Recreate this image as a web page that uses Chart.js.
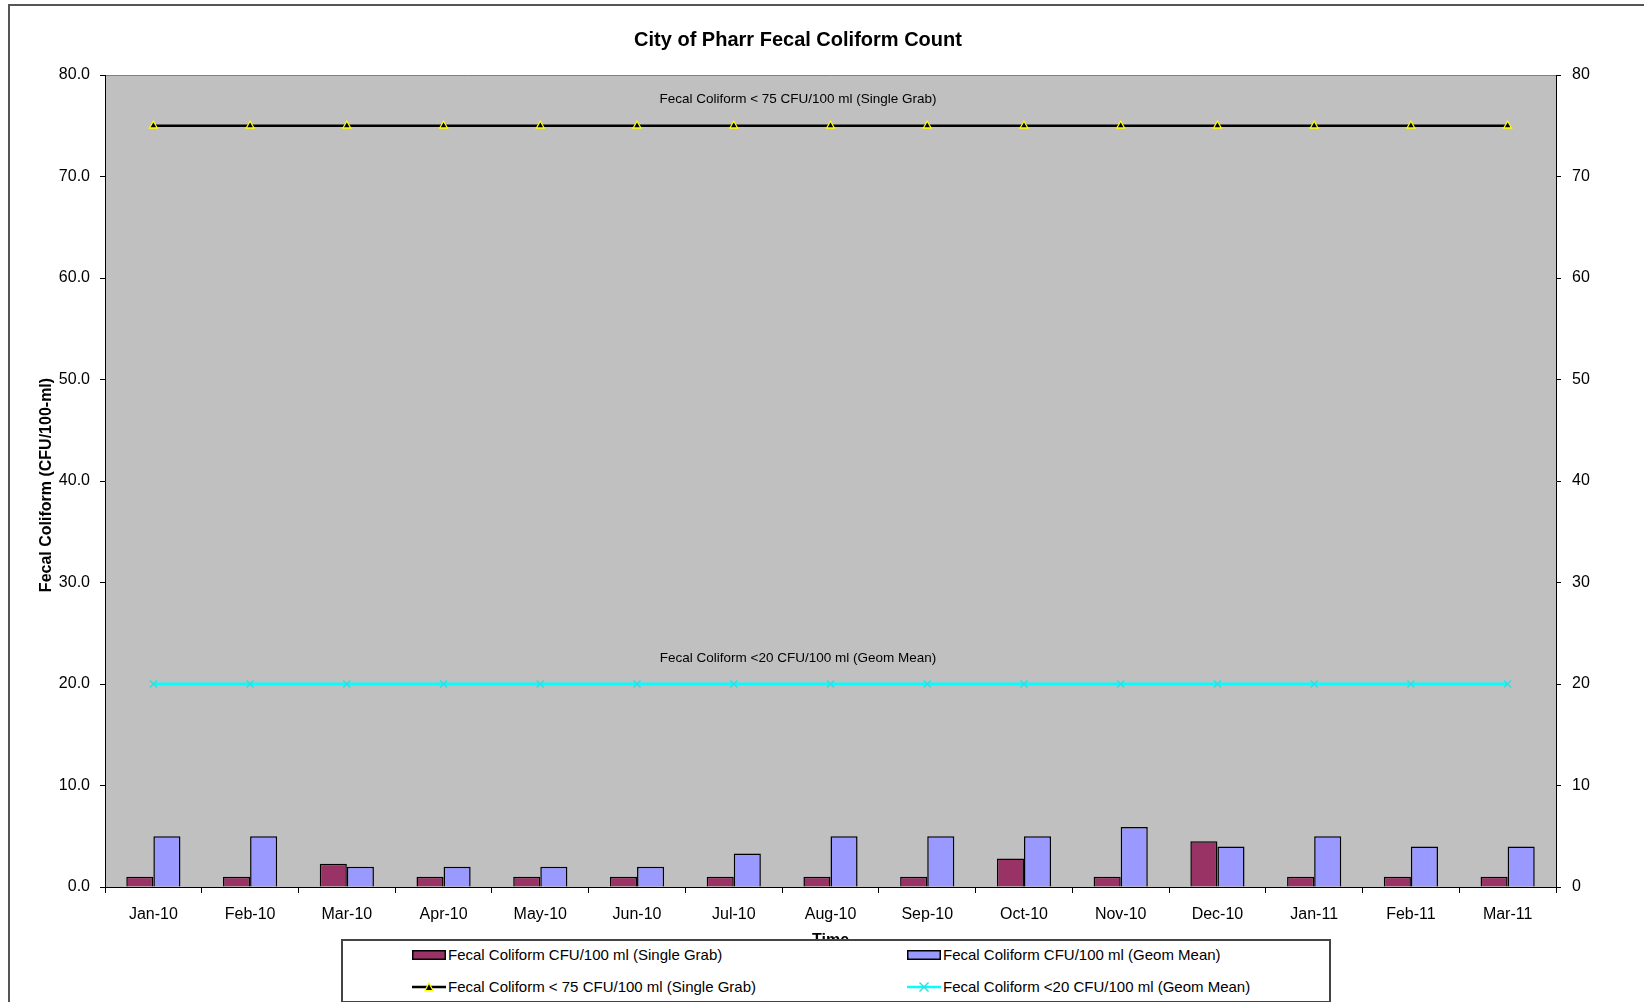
<!DOCTYPE html>
<html><head><meta charset="utf-8">
<script src="https://cdn.jsdelivr.net/npm/chart.js@4.4.1/dist/chart.umd.min.js"></script>
<style>
html,body{margin:0;padding:0;background:#fff;}
#wrap{position:relative;width:1644px;height:1002px;overflow:hidden;font-family:"Liberation Sans",Arial,sans-serif;}
canvas{position:absolute;left:0;top:0;}
#legend{position:absolute;left:341px;top:939px;width:986px;height:60px;border:2px solid #444;background:#fff;}
.item{position:absolute;font-size:15px;color:#000;white-space:nowrap;display:flex;align-items:center;height:20px;line-height:20px;}
.item svg{display:block;margin-right:2px;}
</style></head>
<body><div id="wrap"><canvas id="c" width="1644" height="1002"></canvas><div id="legend"></div></div>
<script>
// ---- data ----
const categories = ['Jan-10','Feb-10','Mar-10','Apr-10','May-10','Jun-10','Jul-10','Aug-10','Sep-10','Oct-10','Nov-10','Dec-10','Jan-11','Feb-11','Mar-11'];
const singleGrab = [1, 1, 2.3, 1, 1, 1, 1, 1, 1, 2.8, 1, 4.5, 1, 1, 1];
const geomMean   = [5, 5, 2, 2, 2, 2, 3.3, 5, 5, 5, 5.9, 4, 5, 4, 4];
const limitSingleGrab = [75, 75, 75, 75, 75, 75, 75, 75, 75, 75, 75, 75, 75, 75, 75];
const limitGeomMean   = [20, 20, 20, 20, 20, 20, 20, 20, 20, 20, 20, 20, 20, 20, 20];
const seriesNames = [
  'Fecal Coliform CFU/100 ml (Single Grab)',
  'Fecal Coliform CFU/100 ml (Geom Mean)',
  'Fecal Coliform < 75 CFU/100 ml (Single Grab)',
  'Fecal Coliform <20 CFU/100 ml (Geom Mean)'
];
const leftTickLabels  = ['0.0','10.0','20.0','30.0','40.0','50.0','60.0','70.0','80.0'];
const rightTickLabels = ['0','10','20','30','40','50','60','70','80'];
const chartTitle = 'City of Pharr Fecal Coliform Count';
const yAxisTitle = 'Fecal Coliform (CFU/100-ml)';
const xAxisTitle = 'Time';
const limitLabels = ['Fecal Coliform < 75 CFU/100 ml (Single Grab)', 'Fecal Coliform <20 CFU/100 ml (Geom Mean)'];

const FONT = '"Liberation Sans", Arial, sans-serif';
const CENTER_X = 798;

const decor = {
  id: 'decor',
  beforeDraw(chart) {
    const {ctx, chartArea: a} = chart;
    ctx.save();
    ctx.fillStyle = '#fff';
    ctx.fillRect(0, 0, chart.width, chart.height);
    ctx.fillStyle = '#C0C0C0';
    ctx.fillRect(a.left, a.top, a.right - a.left, a.bottom - a.top);
    // outer frame
    ctx.strokeStyle = '#555';
    ctx.lineWidth = 2;
    ctx.beginPath();
    ctx.moveTo(9, chart.height);
    ctx.lineTo(9, 5);
    ctx.lineTo(chart.width, 5);
    ctx.stroke();
    // plot area top edge
    ctx.strokeStyle = '#808080';
    ctx.lineWidth = 1;
    ctx.beginPath();
    ctx.moveTo(a.left, a.top + 0.5);
    ctx.lineTo(a.right, a.top + 0.5);
    ctx.stroke();
    ctx.restore();
  },
  afterDraw(chart) {
    const {ctx, chartArea: a, scales} = chart;
    ctx.save();
    ctx.fillStyle = '#000';
    ctx.textAlign = 'center';
    ctx.textBaseline = 'middle';
    ctx.font = 'bold 20px ' + FONT;
    ctx.fillText(chartTitle, CENTER_X, 40);
    ctx.font = '13.5px ' + FONT;
    ctx.fillText(limitLabels[0], CENTER_X, scales.y.getPixelForValue(limitSingleGrab[0]) - 26);
    ctx.fillText(limitLabels[1], CENTER_X, scales.y.getPixelForValue(limitGeomMean[0]) - 26);
    ctx.font = 'bold 16px ' + FONT;
    ctx.textBaseline = 'top';
    ctx.fillText(xAxisTitle, (a.left + a.right) / 2, 933);
    ctx.translate(47, 485);
    ctx.rotate(-Math.PI / 2);
    ctx.textBaseline = 'middle';
    ctx.fillText(yAxisTitle, 0, 0);
    ctx.restore();
  }
};

const tickFont = {family: FONT, size: 16};
const chart = new Chart(document.getElementById('c').getContext('2d'), {
  type: 'bar',
  data: {
    labels: categories,
    datasets: [
      {type: 'bar', label: seriesNames[0], data: singleGrab, backgroundColor: '#993366', borderColor: '#000', borderWidth: 1.5, barPercentage: 1, categoryPercentage: 0.56, yAxisID: 'y', order: 2},
      {type: 'bar', label: seriesNames[1], data: geomMean, backgroundColor: '#9999FF', borderColor: '#000', borderWidth: 1.5, barPercentage: 1, categoryPercentage: 0.56, yAxisID: 'y', order: 2},
      {type: 'line', label: seriesNames[2], data: limitSingleGrab, borderColor: '#000', borderWidth: 2.5, fill: false, pointStyle: 'triangle', pointRadius: 4.5, pointBackgroundColor: '#000', pointBorderColor: '#FFFF00', pointBorderWidth: 1.3, yAxisID: 'y', order: 1},
      {type: 'line', label: seriesNames[3], data: limitGeomMean, borderColor: '#00FFFF', borderWidth: 3, fill: false, pointStyle: 'crossRot', pointRadius: 5, pointBorderColor: '#33DDDD', pointBorderWidth: 1.5, yAxisID: 'y', order: 1}
    ]
  },
  options: {
    responsive: false,
    animation: false,
    devicePixelRatio: 1,
    layout: {padding: {top: 75, left: 0, right: 0, bottom: 0}},
    plugins: {legend: {display: false}, tooltip: {enabled: false}, title: {display: false}},
    scales: {
      x: {
        offset: true,
        grid: {offset: true, drawOnChartArea: false, drawTicks: true, tickLength: 6, color: '#000', lineWidth: 1},
        border: {color: '#000', width: 1},
        ticks: {color: '#000', font: tickFont, padding: 12, maxRotation: 0, autoSkip: false},
        afterFit(s) { s.height = 115; }
      },
      y: {
        position: 'left', min: 0, max: 80,
        grid: {drawOnChartArea: false, drawTicks: true, tickLength: 5, color: '#000'},
        border: {color: '#000', width: 1},
        ticks: {stepSize: 10, color: '#000', font: tickFont, padding: 10, callback: (v, i) => leftTickLabels[i]},
        afterFit(s) { s.width = 105; }
      },
      y2: {
        position: 'right', min: 0, max: 80,
        grid: {drawOnChartArea: false, drawTicks: true, tickLength: 5, color: '#000'},
        border: {color: '#000', width: 1},
        ticks: {stepSize: 10, color: '#000', font: tickFont, padding: 11, callback: (v, i) => rightTickLabels[i]},
        afterFit(s) { s.width = 88; }
      }
    }
  },
  plugins: [decor]
});

// ---- HTML legend built from datasets ----
const legend = document.getElementById('legend');
const swatches = [
  '<svg width="34" height="10"><rect x="0.75" y="0.75" width="32.5" height="8.5" fill="#993366" stroke="#000" stroke-width="1.5"/></svg>',
  '<svg width="34" height="10"><rect x="0.75" y="0.75" width="32.5" height="8.5" fill="#9999FF" stroke="#000" stroke-width="1.5"/></svg>',
  '<svg width="34" height="12"><line x1="0" y1="6" x2="34" y2="6" stroke="#000" stroke-width="2.5"/><polygon points="17,2 21,9.5 13,9.5" fill="#000" stroke="#FFFF00" stroke-width="1.2"/></svg>',
  '<svg width="34" height="12"><line x1="0" y1="6" x2="34" y2="6" stroke="#00FFFF" stroke-width="2.5"/><line x1="12.5" y1="1.5" x2="21.5" y2="10.5" stroke="#33DDDD" stroke-width="1.4"/><line x1="12.5" y1="10.5" x2="21.5" y2="1.5" stroke="#33DDDD" stroke-width="1.4"/></svg>'
];
const legendPos = [[69, 4], [564, 4], [69, 36], [564, 36]];
chart.data.datasets.forEach((ds, i) => {
  const d = document.createElement('div');
  d.className = 'item';
  d.style.left = legendPos[i][0] + 'px';
  d.style.top = legendPos[i][1] + 'px';
  d.innerHTML = swatches[i] + '<span></span>';
  d.querySelector('span').textContent = ds.label;
  legend.appendChild(d);
});
</script>
</body></html>
